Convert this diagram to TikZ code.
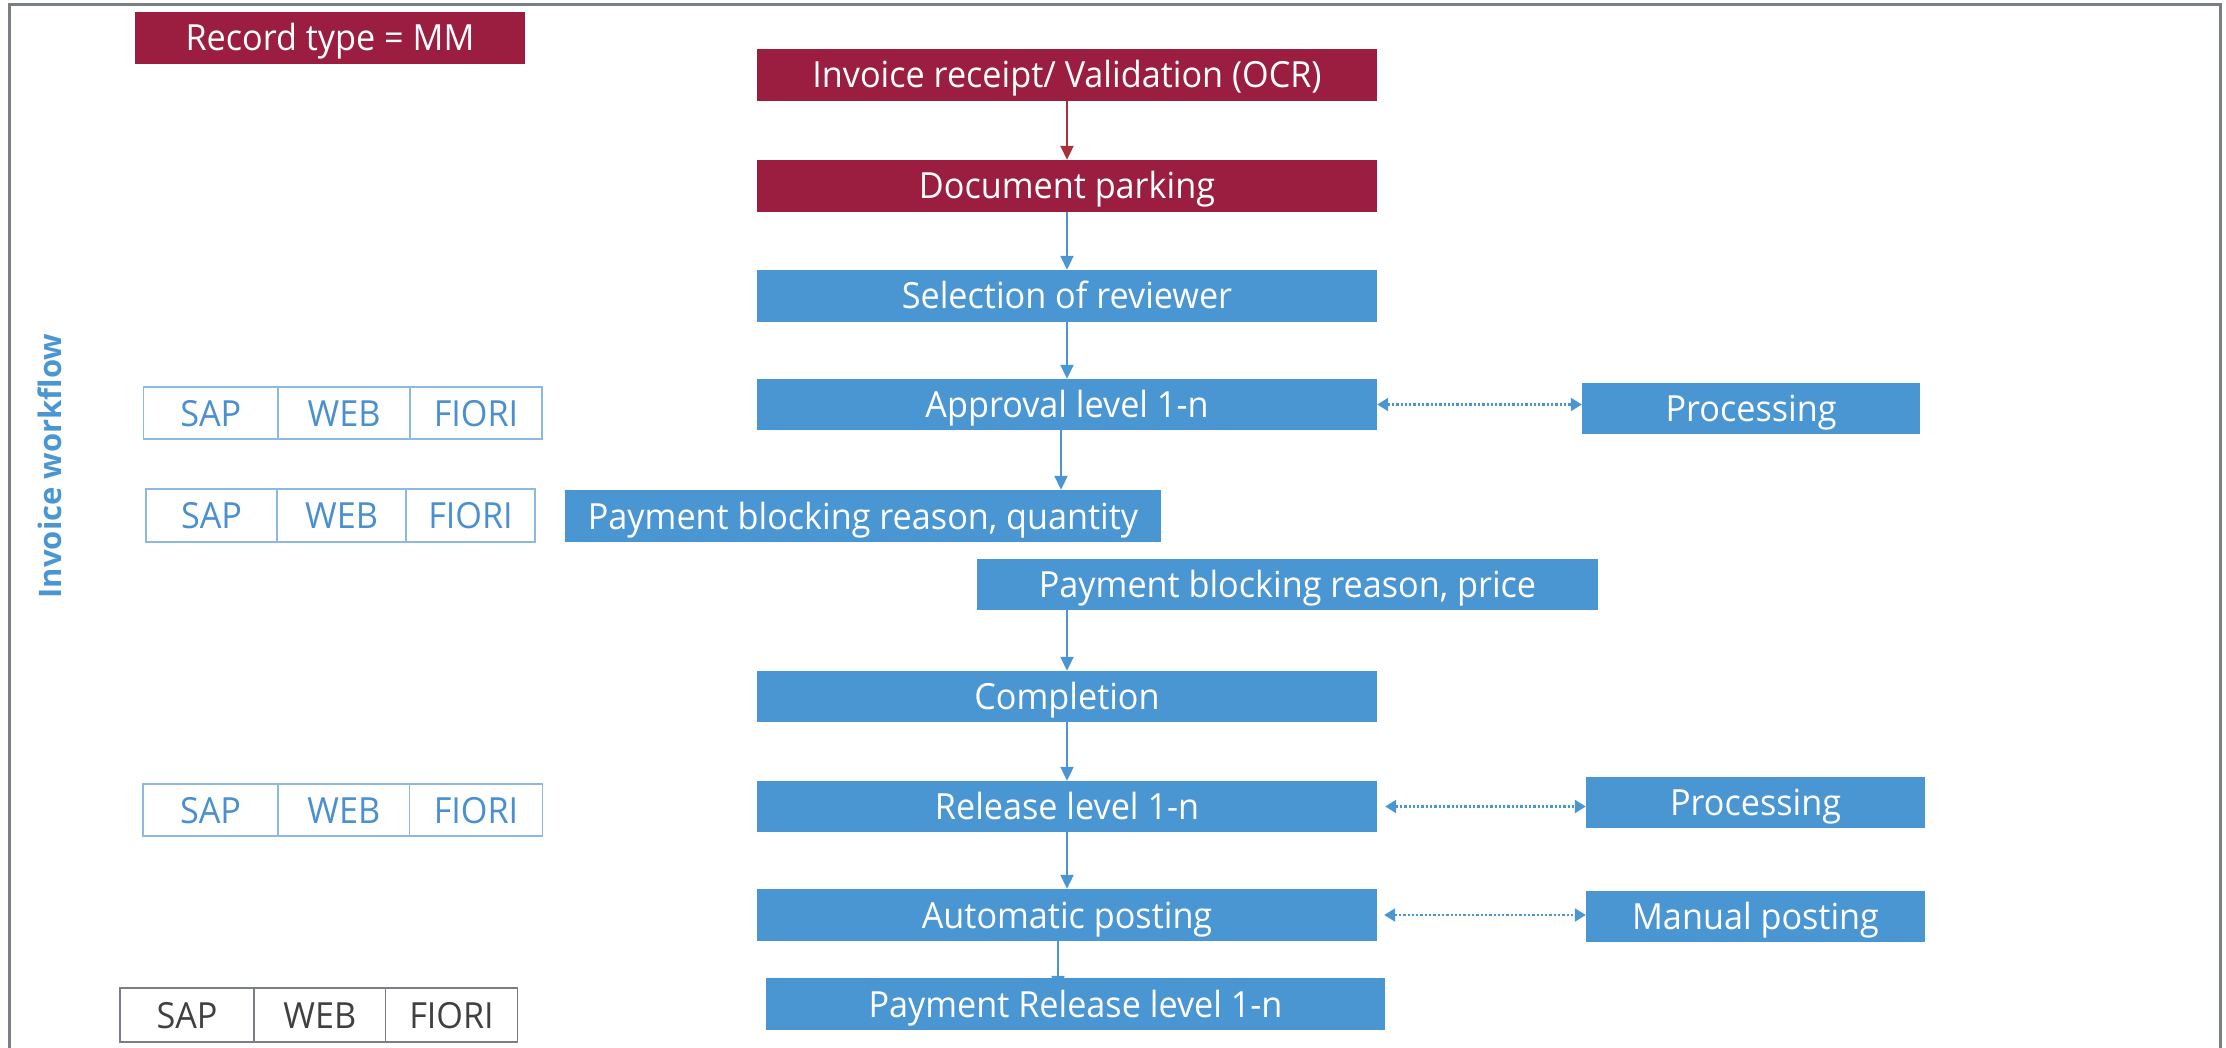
\documentclass[tikz,border=0pt]{standalone}
\usepackage{fontspec}
\setmainfont[FakeStretch=0.95]{Open Sans}
\newfontfamily\wffont{Open Sans}
\usetikzlibrary{arrows.meta,backgrounds}
\definecolor{crim}{HTML}{9B1D3F}
\definecolor{bluebox}{HTML}{4A96D2}
\definecolor{redarr}{HTML}{A8323A}
\definecolor{sapline}{HTML}{8DB8E2}
\definecolor{saptext}{HTML}{4A8FD0}
\definecolor{framec}{HTML}{7A7E86}
\begin{document}
\begin{tikzpicture}[x=1pt,y=-1pt,
  txt/.style={font=\fontsize{36}{40}\selectfont,text height=32pt,text depth=6pt},
  redbox/.style={txt,fill=crim,text=white,inner sep=0pt,minimum height=52pt},
  bbox/.style={txt,fill=bluebox,text=white,inner sep=0pt,minimum height=52pt},
  sapcell/.style={txt,draw=sapline,line width=1.5pt,text=saptext,inner sep=0pt,minimum height=52pt},
  greycell/.style={txt,draw=framec,line width=1.8pt,text=black!75,inner sep=0pt,minimum height=54pt},
  arr/.style={draw=bluebox,line width=2pt,-{Triangle[width=13pt,length=14pt]}},
  rarr/.style={draw=redarr,line width=2pt,-{Triangle[width=13pt,length=14pt]}},
  darr/.style={draw=bluebox,line width=2.3pt,dash pattern=on 2.3pt off 2pt,{Triangle[width=13pt,length=11pt]}-{Triangle[width=13pt,length=11pt]}}]
\useasboundingbox (0,0) rectangle (2226,1048);
\draw[framec,line width=3pt] (9.5,1200) -- (9.5,4.5) -- (2220,4.5) -- (2220,1200);

% title and side label
\node[redbox,minimum width=390pt] (rec) at (330,38) {Record type = MM};
\node[text=bluebox,rotate=90,font=\wffont\bfseries\fontsize{31}{36}\selectfont] (wf) at (50,466) {Invoice workflow};

% main flow
\node[redbox,minimum width=620pt] (inv) at (1067,75) {Invoice receipt/ Validation (OCR)};
\node[redbox,minimum width=620pt] (park) at (1067,186) {Document parking};
\node[bbox,minimum width=620pt] (sel) at (1067,296) {Selection of reviewer};
\node[bbox,minimum width=620pt,minimum height=51pt] (appr) at (1067,404.5) {Approval level 1-n};
\node[bbox,minimum width=596pt] (qty) at (863,516) {Payment blocking reason, quantity};
\node[bbox,minimum width=621pt,minimum height=51pt] (price) at (1287.5,584.5) {Payment blocking reason, price};
\node[bbox,minimum width=620pt,minimum height=51pt] (compl) at (1067,696.5) {Completion};
\node[bbox,minimum width=620pt,minimum height=51pt] (rel) at (1067,806.5) {Release level 1-n};
\node[bbox,minimum width=620pt] (auto) at (1067,915) {Automatic posting};
\node[bbox,minimum width=619pt] (payrel) at (1075.5,1004) {Payment Release level 1-n};

% side boxes
\node[bbox,minimum width=338pt,minimum height=51pt] (proc1) at (1751,408.5) {Processing};
\node[bbox,minimum width=339pt,minimum height=51pt] (proc2) at (1755.5,802.5) {Processing};
\node[bbox,minimum width=339pt,minimum height=51pt] (manual) at (1755.5,916.5) {Manual posting};

% SAP / WEB / FIORI rows
\node[sapcell,minimum width=134.5pt] (s1a) at (210.75,413) {SAP};
\node[sapcell,minimum width=132pt] (s1b) at (344,413) {WEB};
\node[sapcell,minimum width=132pt] (s1c) at (476,413) {FIORI};

\node[sapcell,minimum width=131pt,minimum height=53pt] (s2a) at (211.5,515.5) {SAP};
\node[sapcell,minimum width=129pt,minimum height=53pt] (s2b) at (341.5,515.5) {WEB};
\node[sapcell,minimum width=129pt,minimum height=53pt] (s2c) at (470.5,515.5) {FIORI};

\node[sapcell,minimum width=135pt] (s3a) at (210.5,810) {SAP};
\node[sapcell,minimum width=131.5pt] (s3b) at (343.75,810) {WEB};
\node[sapcell,minimum width=133pt] (s3c) at (476,810) {FIORI};

\node[greycell,minimum width=134pt] (s4a) at (187,1015) {SAP};
\node[greycell,minimum width=131.5pt] (s4b) at (319.75,1015) {WEB};
\node[greycell,minimum width=132pt] (s4c) at (451.5,1015) {FIORI};

% connectors
\coordinate (xa) at (1061,0);
\coordinate (xb) at (1058,0);
\draw[rarr] (inv.south) -- (park.north);
\draw[arr] (park.south) -- (sel.north);
\draw[arr] (sel.south) -- (appr.north);
\draw[arr] (appr.south -| xa) -- (qty.north -| xa);
\draw[arr] (price.south -| compl.north) -- (compl.north);
\draw[arr] (compl.south) -- (rel.north);
\draw[arr] (rel.south) -- (auto.north);
\begin{scope}[on background layer]
\draw[arr] (auto.south -| xb) -- ([yshift=-12pt]payrel.north -| xb);
\end{scope}
\draw[darr] (appr.east) -- (appr.east -| proc1.west);
\draw[darr] ([xshift=8pt]rel.east) -- (rel.east -| proc2.west);
\draw[darr] ([xshift=7pt]auto.east) -- (auto.east -| manual.west);
\end{tikzpicture}
\end{document}
